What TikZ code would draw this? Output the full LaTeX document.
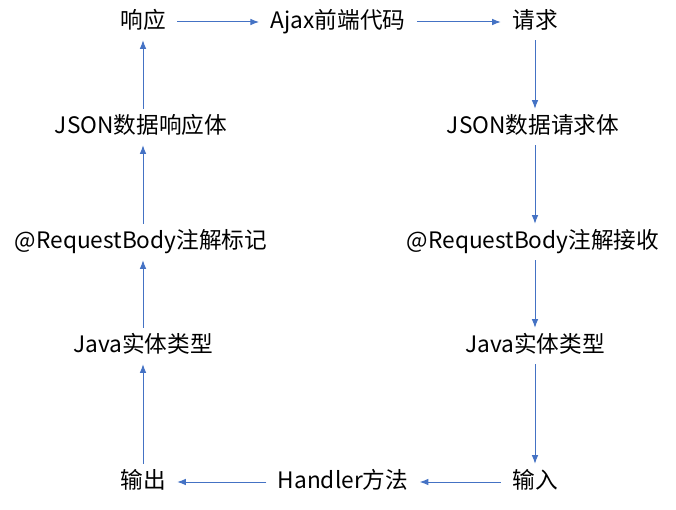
\documentclass[tikz,border=0pt]{standalone}
\usepackage{fontspec}
\setmainfont{Noto Sans CJK SC}
\usetikzlibrary{arrows.meta}
\definecolor{arr}{HTML}{4472C4}
\begin{document}
\begin{tikzpicture}[x=0.75pt,y=-0.75pt,
  lbl/.style={font=\fontsize{17pt}{19pt}\selectfont, inner xsep=8.5pt, inner ysep=6pt, text height=12.5pt, text depth=2.5pt},
  conn/.style={draw=arr, line width=0.75pt, -{Latex[length=6.5pt,width=5pt]}}]
\useasboundingbox (0,0) rectangle (676,510);
\node[lbl] (resp) at (143,22) {响应};
\node[lbl] (ajax) at (338,22) {Ajax前端代码};
\node[lbl] (req) at (535,22) {请求};
\node[lbl] (jl) at (141,127) {JSON数据响应体};
\node[lbl] (jr) at (533,127) {JSON数据请求体};
\node[lbl] (rl) at (141,242) {@RequestBody注解标记};
\node[lbl] (rr) at (533,242) {@RequestBody注解接收};
\node[lbl] (vl) at (143,346) {Java实体类型};
\node[lbl] (vr) at (535,346) {Java实体类型};
\node[lbl] (out) at (143,482) {输出};
\node[lbl] (hd) at (343,482) {Handler方法};
\node[lbl] (in) at (535,482) {输入};
\draw[conn] (resp) -- (ajax);
\draw[conn] (ajax) -- (req);
\draw[conn] (req.south) -- (req.south |- jr.north);
\draw[conn] (req.south |- jr.south) -- (req.south |- rr.north);
\draw[conn] (req.south |- rr.south) -- (vr.north);
\draw[conn] (vr.south) -- (in.north);
\draw[conn] (in) -- (hd);
\draw[conn] (hd) -- (out);
\draw[conn] (out.north) -- (vl.south);
\draw[conn] (vl.north) -- (vl.north |- rl.south);
\draw[conn] (vl.north |- rl.north) -- (vl.north |- jl.south);
\draw[conn] (vl.north |- jl.north) -- (resp.south);
\end{tikzpicture}
\end{document}
